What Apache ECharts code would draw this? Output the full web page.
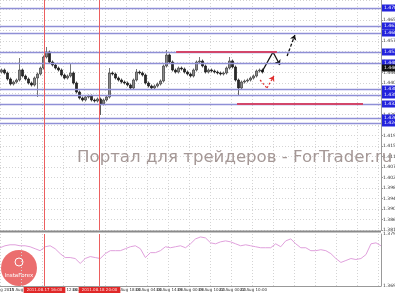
<!DOCTYPE html>
<html><head><meta charset="utf-8">
<script src="https://cdn.jsdelivr.net/npm/echarts@6/dist/echarts.min.js"></script>
<style>html,body{margin:0;padding:0;background:#fff}#c{width:395px;height:293px}</style>
</head><body><div id="c"></div>
<script>
// ---- data ----
const opens  = [1.4450,1.4458,1.4446,1.4422,1.4402,1.4410,1.4418,1.4458,1.4434,1.4422,1.4406,1.4398,1.4426,1.4442,1.4466,1.4510,1.4530,1.4490,1.4478,1.4466,1.4458,1.4438,1.4426,1.4434,1.4446,1.4406,1.4370,1.4346,1.4338,1.4350,1.4354,1.4338,1.4334,1.4342,1.4322,1.4338,1.4350,1.4446,1.4442,1.4426,1.4418,1.4410,1.4406,1.4398,1.4386,1.4418,1.4450,1.4446,1.4438,1.4406,1.4394,1.4386,1.4394,1.4402,1.4414,1.4474,1.4518,1.4490,1.4458,1.4450,1.4466,1.4462,1.4450,1.4442,1.4434,1.4458,1.4490,1.4494,1.4474,1.4450,1.4458,1.4454,1.4450,1.4446,1.4442,1.4446,1.4466,1.4494,1.4470,1.4418,1.4386,1.4410,1.4414,1.4418,1.4426,1.4434,1.4454,1.4458];
const closes = [1.4458,1.4446,1.4422,1.4402,1.4410,1.4418,1.4458,1.4434,1.4422,1.4406,1.4398,1.4426,1.4442,1.4466,1.4510,1.4530,1.4490,1.4478,1.4466,1.4458,1.4438,1.4426,1.4434,1.4446,1.4406,1.4370,1.4346,1.4338,1.4350,1.4354,1.4338,1.4334,1.4342,1.4322,1.4338,1.4350,1.4446,1.4442,1.4426,1.4418,1.4410,1.4406,1.4398,1.4386,1.4418,1.4450,1.4446,1.4438,1.4406,1.4394,1.4386,1.4394,1.4402,1.4414,1.4474,1.4518,1.4490,1.4458,1.4450,1.4466,1.4462,1.4450,1.4442,1.4434,1.4458,1.4490,1.4494,1.4474,1.4450,1.4458,1.4454,1.4450,1.4446,1.4442,1.4446,1.4466,1.4494,1.4470,1.4418,1.4386,1.4410,1.4414,1.4418,1.4426,1.4434,1.4454,1.4458,1.4450];
const highs  = [1.4464,1.4464,1.4452,1.4428,1.4416,1.4424,1.4506,1.4464,1.4440,1.4428,1.4412,1.4432,1.4448,1.4472,1.4516,1.4550,1.4536,1.4496,1.4484,1.4472,1.4464,1.4444,1.4440,1.4486,1.4452,1.4412,1.4376,1.4352,1.4356,1.4360,1.4360,1.4344,1.4348,1.4348,1.4344,1.4356,1.4466,1.4452,1.4448,1.4432,1.4424,1.4416,1.4412,1.4404,1.4424,1.4462,1.4456,1.4452,1.4444,1.4412,1.4400,1.4400,1.4408,1.4420,1.4480,1.4538,1.4524,1.4496,1.4464,1.4472,1.4472,1.4468,1.4456,1.4448,1.4464,1.4496,1.4510,1.4500,1.4480,1.4464,1.4464,1.4460,1.4456,1.4452,1.4452,1.4472,1.4510,1.4500,1.4476,1.4424,1.4416,1.4420,1.4424,1.4432,1.4440,1.4460,1.4464,1.4464];
const lows   = [1.4444,1.4440,1.4416,1.4396,1.4396,1.4404,1.4412,1.4428,1.4416,1.4400,1.4392,1.4392,1.4350,1.4436,1.4460,1.4504,1.4484,1.4472,1.4460,1.4452,1.4432,1.4420,1.4420,1.4428,1.4400,1.4364,1.4340,1.4332,1.4332,1.4344,1.4332,1.4328,1.4328,1.4278,1.4316,1.4332,1.4344,1.4436,1.4420,1.4412,1.4404,1.4400,1.4392,1.4380,1.4380,1.4412,1.4440,1.4432,1.4400,1.4388,1.4380,1.4380,1.4388,1.4396,1.4408,1.4468,1.4484,1.4452,1.4444,1.4444,1.4456,1.4444,1.4436,1.4428,1.4428,1.4452,1.4484,1.4468,1.4444,1.4444,1.4448,1.4444,1.4440,1.4436,1.4436,1.4440,1.4460,1.4464,1.4412,1.4354,1.4380,1.4404,1.4408,1.4412,1.4420,1.4428,1.4448,1.4444];
const indicator = [1.3768,1.3772,1.3774,1.3774,1.3772,1.3772,1.3770,1.3766,1.3762,1.3770,1.3772,1.3766,1.3756,1.3748,1.3748,1.3746,1.3736,1.3746,1.3750,1.3748,1.3746,1.3756,1.3762,1.3762,1.3762,1.3766,1.3770,1.3772,1.3766,1.3748,1.3758,1.3758,1.3762,1.3770,1.3768,1.3770,1.3772,1.3768,1.3776,1.3786,1.3790,1.3788,1.3778,1.3776,1.3780,1.3782,1.3780,1.3776,1.3772,1.3774,1.3772,1.3770,1.3768,1.3768,1.3768,1.3776,1.3770,1.3782,1.3786,1.3776,1.3768,1.3768,1.3762,1.3762,1.3764,1.3762,1.3756,1.3746,1.3738,1.3742,1.3746,1.3744,1.3746,1.3754,1.3776,1.3778,1.3772];
const timeLabels = ['15 Aug 2011','15 Aug 16:00','16 Aug 02:00','16 Aug 12:00','16 Aug 22:00','17 Aug 08:00','17 Aug 18:00','18 Aug 04:00','18 Aug 14:00','19 Aug 00:00','19 Aug 10:00','22 Aug 00:00','22 Aug 10:00'];
const mainRange = [1.3818, 1.4738];
const indRange = [1.3690, 1.3796];
const blueLevels = [1.4706,1.4634,1.4606,1.4530,1.4486,1.4382,1.4358,1.4322,1.4266,1.4246];
const currentPrice = 1.4466;
const redVerticals = [14.83, 33.17];
const redVerticalLabels = ['2011.08.17 16:00','2011.08.18 20:00'];
const redSegments = [{from:58.7,to:92.3,level:1.4530},{from:79.0,to:121.0,level:1.4322}];
const blackPath = [[87.3,1.4450],[91.0,1.4530],[93.3,1.4478]];
const blackDash = [[95.7,1.4514],[98.3,1.4598]];
const redDash = [[86.7,1.4418],[89.0,1.4386],[91.3,1.4434]];
const N = 127;

// ---- build ----
const cats = Array.from({length:N},(_,i)=>String(i));
const candles = closes.map((c,i)=>[opens[i],c,lows[i],highs[i]]);
const indCats = indicator.map((_,i)=>String(i));
const dotted = {show:true,lineStyle:{color:'#d4d4d4',type:[1,2],width:1}};
function seg(a,b){return {coords:[a,b]};}
function segsNoArrow(p){const r=[];for(let i=0;i<p.length-2;i++)r.push(seg(p[i],p[i+1]));return r;}
function lastSeg(p){return [seg(p[p.length-2],p[p.length-1])];}
const lblBase = {show:true,position:'end',distance:1,color:'#fff',fontSize:4.5,padding:[1,2],fontFamily:'DejaVu Sans'};
const vertMain = redVerticals.map(x=>seg([x,mainRange[0]],[x,mainRange[1]]));
const vertInd = redVerticals.map(x=>seg([x,indRange[0]],[x,indRange[1]]));

const chart = echarts.init(document.getElementById('c'),null,{renderer:'canvas'});
chart.setOption({
  animation:false,
  backgroundColor:'#ffffff',
  grid:[{left:0,top:0,width:381,height:230,outerBoundsMode:'none',containLabel:false},
        {left:0,top:234,width:381,height:52,outerBoundsMode:'none',containLabel:false}],
  xAxis:[
    {type:'category',gridIndex:0,data:cats,show:false},
    {type:'value',gridIndex:0,min:0,max:N,interval:7,axisLine:{show:false},axisTick:{show:false},axisLabel:{show:false},splitLine:dotted},
    {type:'category',gridIndex:1,data:cats,position:'bottom',
      axisLine:{lineStyle:{color:'#999'}},axisTick:{show:false},
      axisLabel:{interval:0,fontSize:4,color:'#333',margin:2,fontFamily:'DejaVu Sans',
        formatter:(v,idx)=> (idx%7===0 && timeLabels[idx/7]) ? timeLabels[idx/7] : ''},
      splitLine:{show:true,interval:6,lineStyle:{color:'#d4d4d4',type:[1,2]}}},
    {type:'category',gridIndex:1,data:indCats,boundaryGap:false,show:false},
    {type:'value',gridIndex:1,min:0,max:N,show:false}
  ],
  yAxis:[
    {type:'value',gridIndex:0,position:'right',min:mainRange[0],max:mainRange[1],interval:0.0042,
      axisLine:{show:true,onZero:false,lineStyle:{color:'#999'}},axisTick:{show:true,length:2,lineStyle:{color:'#999'}},
      axisLabel:{fontSize:4.5,color:'#333',margin:2,showMaxLabel:false,fontFamily:'DejaVu Sans',formatter:v=>v.toFixed(5)},
      splitLine:dotted},
    {type:'value',gridIndex:1,position:'right',min:indRange[0],max:indRange[1],
      axisLine:{show:true,onZero:false,lineStyle:{color:'#999'}},axisTick:{show:false},
      axisLabel:{fontSize:4.5,color:'#333',margin:2,fontFamily:'DejaVu Sans',customValues:indRange,formatter:v=>v.toFixed(5)},
      splitLine:{show:false}}
  ],
  series:[
    {type:'line',xAxisIndex:1,yAxisIndex:0,data:[],silent:true,z:1,
      markLine:{silent:true,symbol:'none',animation:false,precision:6,
        data:[
          ...blueLevels.map(v=>({yAxis:v,lineStyle:{color:'#8f8fd6',width:1.3,type:'solid'},
            label:Object.assign({},lblBase,{formatter:()=>v.toFixed(5),backgroundColor:'#2323dd'})})),
          {yAxis:currentPrice,lineStyle:{color:'#ffffff',width:0.01},label:Object.assign({},lblBase,{formatter:()=>currentPrice.toFixed(5),backgroundColor:'#111'})},
          ...redSegments.map(s=>[{coord:[s.from,s.level],lineStyle:{color:'#d2466a',width:2,type:'solid'},label:{show:false}},{coord:[s.to,s.level]}])
        ]}},
    {type:'candlestick',xAxisIndex:0,yAxisIndex:0,data:candles,barWidth:2,z:3,
      itemStyle:{color:'#8a8a8a',color0:'#2a2a2a',borderColor:'#3a3a3a',borderColor0:'#1a1a1a',borderWidth:0.7}},
    {type:'lines',coordinateSystem:'cartesian2d',xAxisIndex:1,yAxisIndex:0,z:10,zlevel:1,silent:true,symbol:'none',
      lineStyle:{color:'#ec5f5f',width:1,type:'solid',opacity:1},data:vertMain},
    {type:'lines',coordinateSystem:'cartesian2d',xAxisIndex:1,yAxisIndex:0,z:4,silent:true,symbol:'none',
      lineStyle:{color:'#111',width:1.3,type:'solid',opacity:1},data:segsNoArrow(blackPath)},
    {type:'lines',coordinateSystem:'cartesian2d',xAxisIndex:1,yAxisIndex:0,z:4,silent:true,symbol:['none','arrow'],symbolSize:5,
      lineStyle:{color:'#111',width:1.3,type:'solid',opacity:1},data:lastSeg(blackPath)},
    {type:'lines',coordinateSystem:'cartesian2d',xAxisIndex:1,yAxisIndex:0,z:4,silent:true,symbol:['none','arrow'],symbolSize:5,
      lineStyle:{color:'#111',width:1.3,type:[3,2],opacity:1},data:lastSeg(blackDash)},
    {type:'lines',coordinateSystem:'cartesian2d',xAxisIndex:1,yAxisIndex:0,z:4,silent:true,symbol:'none',
      lineStyle:{color:'#e03030',width:1.2,type:[2,2],opacity:1},data:segsNoArrow(redDash)},
    {type:'lines',coordinateSystem:'cartesian2d',xAxisIndex:1,yAxisIndex:0,z:4,silent:true,symbol:['none','arrow'],symbolSize:5,
      lineStyle:{color:'#e03030',width:1.2,type:[2,2],opacity:1},data:lastSeg(redDash)},
    {type:'line',xAxisIndex:3,yAxisIndex:1,data:indicator,symbol:'none',lineStyle:{color:'#e0a0dc',width:1},z:3},
    {type:'lines',coordinateSystem:'cartesian2d',xAxisIndex:4,yAxisIndex:1,z:10,zlevel:1,silent:true,symbol:'none',
      lineStyle:{color:'#ec5f5f',width:1,type:'solid',opacity:1},data:vertInd},
    {type:'line',xAxisIndex:4,yAxisIndex:1,data:[],silent:true,zlevel:1,z:11,
      markLine:{silent:true,symbol:'none',animation:false,precision:6,
        data:redVerticals.map((x,i)=>({xAxis:x,lineStyle:{color:'#ec5f5f',width:1,type:'solid'},
          label:{show:true,position:'start',distance:1,formatter:()=>redVerticalLabels[i],backgroundColor:'#e02828',color:'#ffe0e0',fontSize:4,padding:[1,3],fontFamily:'DejaVu Sans'}}))}}
  ],
  graphic:[
    {type:'rect',shape:{x:0,y:230.5,width:381,height:2},style:{fill:'#8a8a8a'},z:10},
    {type:'text',left:77,top:149,z:10,silent:true,style:{text:'Портал для трейдеров - ForTrader.ru',font:'16.6px "DejaVu Sans"',fill:'#a59896'}},
    {type:'group',left:1,top:250,z:20,zlevel:2,children:[
      {type:'circle',shape:{cx:18,cy:18,r:18},style:{fill:'rgba(232,90,90,0.88)'}},
      {type:'circle',shape:{cx:18,cy:12,r:4},style:{fill:'none',stroke:'#fff',lineWidth:1}},
      {type:'text',style:{text:'InstaForex',x:18,y:23,align:'center',font:'5.5px "DejaVu Sans"',fill:'#fff'}}
    ]}
  ]
});
</script></body></html>
